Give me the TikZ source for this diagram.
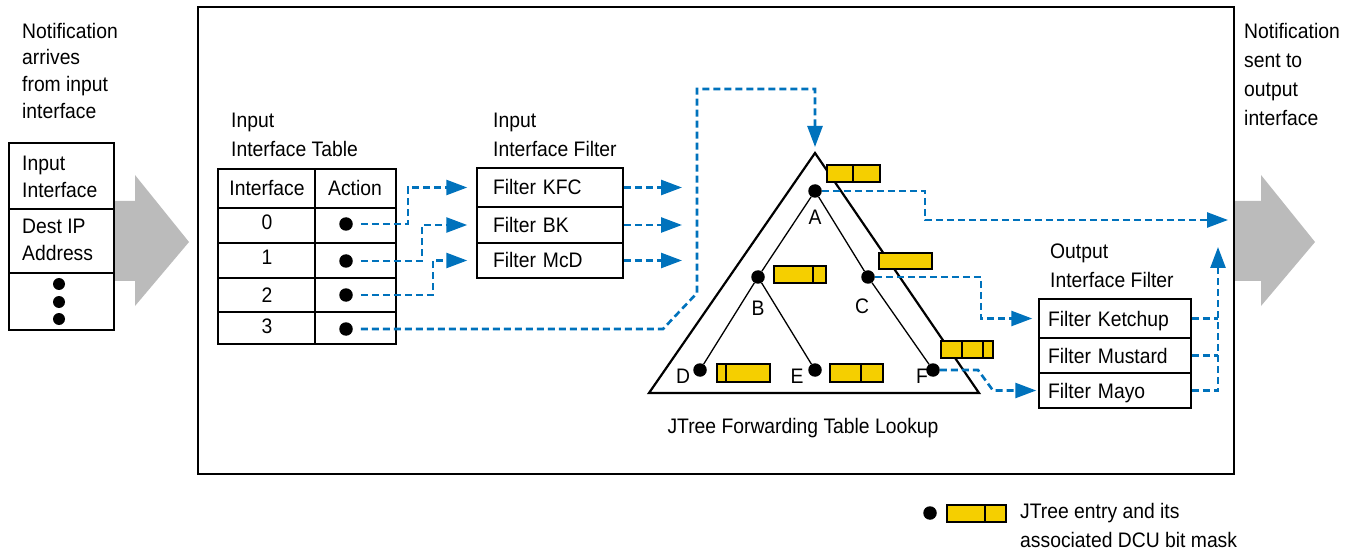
\documentclass[tikz,border=0pt]{standalone}
\usepackage{fontspec}
\setmainfont{Liberation Sans}[FakeStretch=0.92]
\usetikzlibrary{arrows.meta}
\definecolor{linkblue}{RGB}{0,114,188}
\definecolor{maskyellow}{RGB}{245,207,0}
\definecolor{flowgray}{RGB}{187,187,187}
\newcommand\txtfont[1]{\fontsize{21}{#1}\selectfont}

\begin{document}
\begin{tikzpicture}[x=1pt,y=-1pt,
  every node/.style={inner sep=0pt},
  lblc/.style={anchor=base, font=\txtfont{26}},
  para/.style={anchor=north west, align=left, font=\txtfont{#1}},
  frame/.style={draw=black, line width=2pt},
  grid/.style={draw=black, line width=1.5pt},
  conn/.style={draw=linkblue, line width=2.6pt, dash pattern=on 7pt off 4pt,
    -{Triangle[length=21pt,width=15pt]}},
  link/.style={draw=linkblue, line width=2.6pt, dash pattern=on 7pt off 4pt},
  dot/.style={circle, fill=black, minimum size=13.5pt},
  smalldot/.style={circle, fill=black, minimum size=12pt},
  mask/.style={fill=maskyellow, draw=black, line width=2.4pt},
  maskbar/.style={draw=black, line width=2pt},
  edge/.style={draw=black, line width=1.3pt},
  tri/.style={draw=black, line width=2.2pt, line join=miter},
  ifrow/.style={draw=black, line width=1.5pt, minimum width=146pt, inner xsep=16pt,
    text width=114pt, align=left, text height=15pt, text depth=0pt, font=\txtfont{26}},
  ofrow/.style={draw=black, line width=1.5pt, minimum width=152pt, inner xsep=9pt,
    text width=134pt, align=left, text height=15pt, text depth=0pt, font=\txtfont{26}}
]
\useasboundingbox (0,0) rectangle (1354,553);

% big gray flow arrows
\fill[flowgray] (115,201) -- (135,201) -- (135,175) -- (189,242) -- (135,306) -- (135,281) -- (115,281) -- cycle;
\fill[flowgray] (1235,201) -- (1261,201) -- (1261,175) -- (1315,242) -- (1261,306) -- (1261,281) -- (1235,281) -- cycle;

% outer processing frame
\draw[frame] (198,7) rectangle (1234,474);

% incoming notification
\node[para=26.7] (inNote) at (22,19.3) {\strut Notification\\arrives\\from input\\interface};
\draw[frame] (9,143) rectangle (114,330);
\draw[frame] (9,209) -- (114,209);
\draw[frame] (9,273) -- (114,273);
\node[para=27] (pktIf) at (22,151) {\strut Input\\Interface};
\node[para=27] (pktIp) at (22,214) {\strut Dest IP\\Address};
\node[smalldot] (pd1) at (59,284) {};
\node[smalldot] (pd2) at (59,302) {};
\node[smalldot] (pd3) at (59,319) {};

% outgoing notification
\node[para=29] (outNote) at (1244,17.7) {\strut Notification\\sent to\\output\\interface};

% input interface table
\node[para=29] (tblTitle) at (231,106.7) {\strut Input\\Interface Table};
\draw[grid] (218,169) rectangle (396,344);
\draw[grid] (315,169) -- (315,344);
\foreach \y in {208,243,278,312} \draw[grid] (218,\y) -- (396,\y);
\node[lblc] (hIf) at (267,195.5) {Interface};
\node[lblc] (hAct) at (355,195.5) {Action};
\node[lblc] (n0) at (267,230) {0};
\node[lblc] (n1) at (267,265) {1};
\node[lblc] (n2) at (267,302) {2};
\node[lblc] (n3) at (267,333) {3};
\node[dot] (d0) at (346,224) {};
\node[dot] (d1) at (346,261) {};
\node[dot] (d2) at (346,295) {};
\node[dot] (d3) at (346,329) {};

% input interface filter
\node[para=29] (ifTitle) at (493,106.7) {\strut Input\\Interface Filter};
\node[ifrow, minimum height=39pt] (kfc) at (550,187.5) {Filter KFC};
\node[ifrow, minimum height=36pt] (bk) at (550,225) {Filter BK};
\node[ifrow, minimum height=35pt] (mcd) at (550,260.5) {Filter McD};

% output interface filter
\node[para=29] (ofTitle) at (1050,237.7) {\strut Output\\Interface Filter};
\node[ofrow, minimum height=39pt] (ketchup) at (1115,318.5) {Filter Ketchup};
\node[ofrow, minimum height=35pt] (mustard) at (1115,355.5) {Filter Mustard};
\node[ofrow, minimum height=35pt] (mayo) at (1115,390.5) {Filter Mayo};

% JTree
\coordinate (apex) at (815,153);
\coordinate (tl) at (649,393);
\coordinate (tr) at (979,393);
\draw[tri] (apex) -- (tr) -- (tl) -- cycle;
\node[dot] (A) at (815,191) {};
\node[dot] (B) at (758,277) {};
\node[dot] (C) at (868,277) {};
\node[dot] (D) at (700,370) {};
\node[dot] (E) at (815,370) {};
\node[dot] (F) at (933,370) {};
\draw[edge] (A) -- (B);
\draw[edge] (A) -- (C);
\draw[edge] (B) -- (D);
\draw[edge] (B) -- (E);
\draw[edge] (C) -- (F);
\node[lblc] (lA) at (815,225) {A};
\node[lblc] (lB) at (758,316) {B};
\node[lblc] (lC) at (862,313) {C};
\node[lblc] (lD) at (683,383) {D};
\node[lblc] (lE) at (797,383) {E};
\node[lblc] (lF) at (922,383) {F};
\node[lblc] (jt) at (803,433) {JTree Forwarding Table Lookup};

% DCU bit masks
\draw[mask] (827,165) rectangle (880,182);
\draw[maskbar] (853,165) -- (853,182);
\draw[mask] (879,253) rectangle (932,269);
\draw[mask] (774,266) rectangle (826,283);
\draw[maskbar] (813,266) -- (813,283);
\draw[mask] (941,341) rectangle (993,358);
\draw[maskbar] (962,341) -- (962,358);
\draw[maskbar] (983,341) -- (983,358);
\draw[mask] (717,364) rectangle (770,382);
\draw[maskbar] (726,364) -- (726,382);
\draw[mask] (830,364) rectangle (883,382);
\draw[maskbar] (861,364) -- (861,382);

% connectors: table actions to filters
\draw[conn, shorten <=8pt] (d0) -- (408,224) |- ([xshift=-9pt]kfc.west);
\draw[conn, shorten <=8pt] (d1) -- (422,261) |- ([xshift=-9pt]bk.west);
\draw[conn, shorten <=8pt] (d2) -- (433,295) |- ([xshift=-9pt]mcd.west);
\draw[conn, shorten <=8pt] (d3) -- (663,329) -- (697,293) -- (697,89) -| ([yshift=6pt]apex);

% filters to lookup
\coordinate (kfcOut) at (682,187.5);
\coordinate (bkOut) at (682,225);
\coordinate (mcdOut) at (682,260.5);
\draw[conn] (kfc.east) -- (kfcOut);
\draw[conn] (bk.east) -- (bkOut);
\draw[conn] (mcd.east) -- (mcdOut);

% lookup results
\coordinate (aOut) at (1228,220);
\draw[conn] (A) -| (925,220) -- (aOut);
\draw[conn] (C) -| (981,318.5) -- ([xshift=-6pt]ketchup.west);
\draw[conn] (F) -- (978,370) -- (993,390.5) -- ([xshift=-2pt]mayo.west);

% output filters to output
\coordinate (upOut) at (1218,247);
\draw[link] (ketchup.east) -- (1218,318.5);
\draw[link] (mustard.east) -- (1218,355.5);
\draw[conn] (mayo.east) -| (upOut);

% legend
\node[dot] (legDot) at (930,513) {};
\draw[mask] (947,505) rectangle (1006,522);
\draw[maskbar] (985,505) -- (985,522);
\node[para=29] (legTxt) at (1020,497.7) {\strut JTree entry and its\\associated DCU bit mask};
\end{tikzpicture}
\end{document}
